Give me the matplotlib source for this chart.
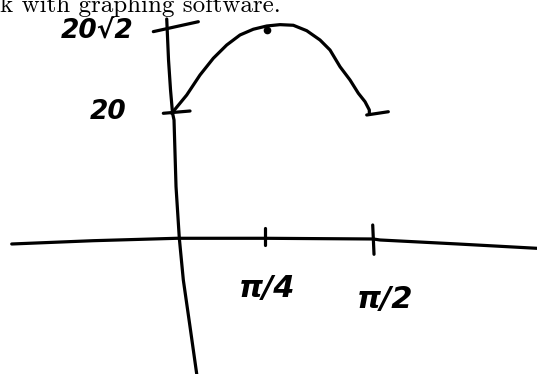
import numpy as np
import matplotlib
matplotlib.use("Agg")
import matplotlib.pyplot as plt

# Freehand sketch of f(x) = 20(sin x + cos x) on [0, pi/2].
# x in radians, y in function units.
curve_x = [-0.0667, 0.0703, 0.1918, 0.3132, 0.4356, 0.5571, 0.6785, 0.7978,
           0.8945, 0.9912, 1.0887, 1.1854, 1.2581, 1.3309, 1.4036, 1.4640,
           1.5127, 1.5440, 1.5440]
curve_y = [19.95, 21.72, 23.64, 25.24, 26.51, 27.47, 28.02, 28.33,
           28.46, 28.40, 27.88, 26.99, 26.03, 24.43, 23.16, 21.89,
           21.08, 20.29, 19.84]
end_tick_x = [1.5250, 1.6821]
end_tick_y = [19.68, 20.12]

max_x = [0.7978]
max_y = [27.95]

# freehand axes
xaxis_x = [-1.5279, -0.7826, -0.0210, 0.7854, 1.5730, 1.6217, 2.1890, 2.7635]
xaxis_y = [-0.91, -0.383, 0.0, 0.0, -0.112, -0.271, -0.910, -1.60]
yaxis_x = [-0.1123, -0.0959, -0.0776, -0.0594, -0.0457, -0.0274, 0.0027,
           0.0393, 0.1005, 0.1616]
yaxis_y = [29.00, 25.08, 22.20, 20.0, 18.88, 8.24, 0.0, -6.66, -14.11, -21.66]

# tick strokes
tick_strokes = [
    ([-0.2347, 0.1763], [27.79, 28.74]),   # 20√2
    ([-0.1434, 0.1005], [19.95, 20.19]),   # 20
    ([0.7854, 0.7854], [1.644, -1.069]),   # π/4
    ([1.5686, 1.5781], [2.123, -2.554]),   # π/2
]
labels = ["20√2", "20", "π/4", "π/2"]
label_x = [-0.7489, -0.6484, 0.80, 1.6581]
label_y = [27.81, 20.10, -8.09, -9.69]
label_size = [19, 19, 22, 22]

# the sketch is not to scale: each marked interval gets its own stretch
x_marks = [-10.0, 0.0, np.pi / 4, np.pi / 2, 10.0]
x_pos = [-916.0, 179.0, 265.0, 373.0, 1532.0]
y_marks = [-100.0, 0.0, 20.0, 20 * np.sqrt(2), 100.0]
y_pos = [-490.8, 135.7, 261.0, 347.5, 1096.2]


def x_fwd(v):
    return np.interp(v, x_marks, x_pos)


def x_inv(s):
    return np.interp(s, x_pos, x_marks)


def y_fwd(v):
    return np.interp(v, y_marks, y_pos)


def y_inv(s):
    return np.interp(s, y_pos, y_marks)


fig = plt.figure(figsize=(5.37, 3.74), dpi=100)
ax = fig.add_axes([0, 0, 1, 1])
ax.set_xscale("function", functions=(x_fwd, x_inv))
ax.set_yscale("function", functions=(y_fwd, y_inv))
ax.set_xlim(-1.635, 2.7635)
ax.set_ylim(-21.66, 30.82)
ax.axis("off")

stroke = dict(color="black", lw=2.3, solid_capstyle="round",
              solid_joinstyle="round")
ax.plot(xaxis_x, xaxis_y, **stroke)
ax.plot(yaxis_x, yaxis_y, **stroke)
for xs, ys in tick_strokes:
    ax.plot(xs, ys, **stroke)
ax.plot(curve_x, curve_y, **stroke)
ax.plot(end_tick_x, end_tick_y, **stroke)
ax.plot(max_x, max_y, "o", color="black", ms=4.5)

for t, x, y, s in zip(labels, label_x, label_y, label_size):
    ax.text(x, y, t, ha="center", va="center", fontsize=s,
            fontstyle="italic", fontweight="bold", color="black")

# caption line running off the top edge
fig.text(0.0, 1 - 11.7 / 374, "k with graphing software.", fontsize=18,
         family="cmr10", va="baseline", ha="left")

fig.savefig("out.png", dpi=100)
